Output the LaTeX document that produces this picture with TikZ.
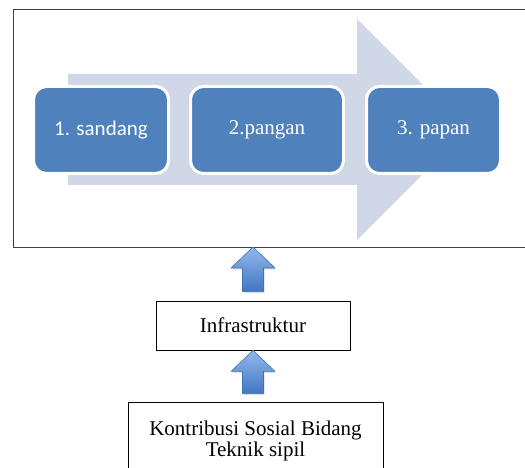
\documentclass[tikz,border=0pt]{standalone}
\usepackage{fontspec}
\setmainfont{Liberation Serif}
\newfontfamily\calibri{Carlito}
\usetikzlibrary{calc,positioning,shadows}
\definecolor{stBlue}{HTML}{4F81BD}
\definecolor{stPale}{HTML}{D0D8E8}
\definecolor{stFrame}{HTML}{3F3F3F}
\definecolor{stArrTop}{HTML}{93B8EC}
\definecolor{stArrBot}{HTML}{4077C2}
\definecolor{stArrLine}{HTML}{4272B4}
\tikzset{
 flowchart/.style={x=1pt,y=-1pt,line join=round,font=\fontsize{21}{20.5}\selectfont},
 stage/.style={rectangle,rounded corners=13pt,fill=stBlue,draw=white,line width=3pt,
   text=white,minimum height=87pt,inner sep=0pt},
 plainbox/.style={rectangle,draw=black,line width=.8pt,fill=white,inner sep=0pt,align=center},
 bigarrow/.style={fill=stPale,draw=none},
 uparrow/.style={top color=stArrTop,bottom color=stArrBot,draw=stArrLine,line width=.6pt,
   drop shadow={opacity=.25,shadow xshift=1pt,shadow yshift=-1.5pt}},
 frame/.style={draw=stFrame,line width=1pt}
}
% block arrow pointing up: #1 = bottom centre, #2 = tip
\newcommand{\upArrow}[2]{%
 \path[uparrow] ($(#1)+(-10.5,0)$) -- ($(#1)+(10.5,0)$) -- ($(#2)+(10.5,21)$)
   -- ($(#2)+(22,21)$) -- (#2) -- ($(#2)+(-22,21)$) -- ($(#2)+(-10.5,21)$) -- cycle;}
\begin{document}
\begin{tikzpicture}[flowchart]
 \useasboundingbox (0,0) rectangle (525,468);
 % frame with the three stages
 \draw[frame] (527,10) -- (13,10) -- (13,247) -- (527,247);
 \coordinate (frameB) at (253,247);
 \path[bigarrow] (68,74) -- (357,74) -- (357,19) -- (467.5,129.5) -- (357,240)
   -- (357,185) -- (68,185) -- cycle;
 \node[stage,minimum width=135pt] (sandang) at (101,130) {\calibri 1. sandang};
 \node[stage,minimum width=153pt] (pangan) at (267,130) {2.pangan};
 \node[stage,minimum width=134pt] (papan) at (433.5,130) {3. papan};
 % lower boxes
 \node[plainbox,minimum width=194pt,minimum height=49pt] (infra) at (253,325.5) {Infrastruktur};
 \node[plainbox,minimum width=255pt,minimum height=78pt] (kontrib) at (255.5,441)
   {Kontribusi Sosial Bidang\\Teknik sipil};
 \coordinate (a1) at ($(infra.north)+(0,-9)$);
 \coordinate (a2) at ($(kontrib.north)+(-2.5,-8)$);
 \upArrow{a1}{frameB}
 \upArrow{a2}{infra.south}
\end{tikzpicture}
\end{document}
